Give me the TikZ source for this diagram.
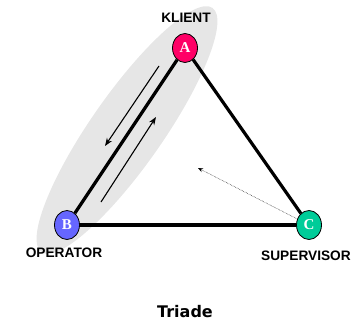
\documentclass[tikz,border=0pt]{standalone}
\usepackage{fontspec}
\setmainfont{Liberation Sans}
\newfontfamily\letterfont{Liberation Serif}
\newfontfamily\titlefont{DejaVu Sans}
\usetikzlibrary{arrows.meta,shapes.geometric}
\definecolor{colA}{HTML}{FF0066}
\definecolor{colB}{HTML}{6666FF}
\definecolor{colC}{HTML}{00CC99}
\definecolor{hlgray}{HTML}{E6E6E6}
\tikzset{
  vertex/.style={ellipse, draw=black, line width=0.8pt, minimum width=25pt, minimum height=29pt, inner sep=0pt,
    font=\letterfont\bfseries\fontsize{15}{15}\selectfont, text=white},
  role/.style={font=\bfseries\fontsize{13.7}{13.7}\selectfont},
  side/.style={line width=3.2pt},
  flow/.style={line width=1.1pt, -{Stealth[length=8pt,width=6pt]}},
  hint/.style={line width=0.5pt, densely dotted, -{Stealth[length=5pt,width=4pt]}}
}
\begin{document}
\begin{tikzpicture}[x=1pt,y=-1pt]
\useasboundingbox (0,0) rectangle (356,321);
\fill[hlgray, rotate around={55:(127,130)}] (127,130) ellipse (149 and 36);
\node[vertex, fill=colA] (A) at (185,48) {A};
\node[vertex, fill=colB] (B) at (67,225) {B};
\node[vertex, fill=colC] (C) at (309,225) {C};
\draw[side] (A) -- (B);
\draw[side] (B) -- (C);
\draw[side] (A) -- (C);
\coordinate (d1) at (159,66);
\coordinate (d2) at (105,146);
\coordinate (u1) at (101,202);
\coordinate (u2) at (156,117);
\draw[flow] (d1) -- (d2);
\draw[flow] (u1) -- (u2);
\coordinate (h) at (198,168);
\draw[hint] (C) -- (h);
\node[role] (kl) at (186,18) {KLIENT};
\node[role] (op) at (64,252.5) {OPERATOR};
\node[role] (su) at (306,256) {SUPERVISOR};
\node[font=\titlefont\bfseries\fontsize{16}{16}\selectfont] (t) at (185,312) {Triade};
\end{tikzpicture}
\end{document}
